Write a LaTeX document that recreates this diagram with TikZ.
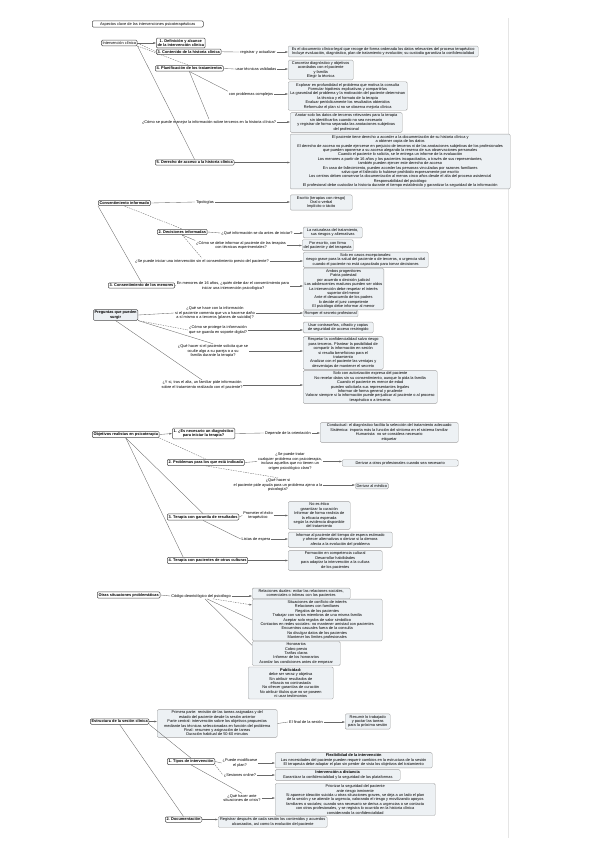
\documentclass[tikz,border=0pt]{standalone}
\usepackage{fontspec}
\setmainfont{Liberation Sans}
\usepackage{tikz}
\usetikzlibrary{arrows.meta, calc}
\definecolor{boxfill}{RGB}{237,241,244}
\definecolor{linegray}{RGB}{105,105,105}
\newcommand{\mapsize}{\fontsize{3.9}{4.4}\selectfont}

\begin{document}
\begin{tikzpicture}[x=1pt, y=-1pt,
    box/.style={draw=gray!75, fill=boxfill, rounded corners=1.2pt, align=center, anchor=west, font=\mapsize, inner sep=1.4pt, line width=0.4pt},
    topic/.style={draw=black!70, fill=white, rounded corners=1.2pt, align=center, anchor=west, font=\mapsize\bfseries, inner sep=1.3pt, line width=0.5pt},
    lbl/.style={align=center, font=\mapsize, inner sep=0.8pt},
    link/.style={draw=linegray, line width=0.35pt},
    arr/.style={link, -{Latex[length=2.6pt,width=2pt]}},
    dlink/.style={link, dash pattern=on 1.5pt off 1pt}]

        \useasboundingbox (0,0) rectangle (599,848);
        \draw[gray!20, line width=0.5pt] (508,18) -- (508,838);

        % Title and clinical intervention
        \node[topic, font=\mapsize, minimum width=111pt] (title) at (92,24) {Aspectos clave de las intervenciones psicoterapéuticas};
        \node[topic, font=\mapsize] (ic) at (101,43) {Intervención clínica};
        \node[topic] (d1) at (156,43) {1. Definición y alcance\\de la intervención clínica};
        \node[topic] (d3) at (156,51.8) {3. Contenido de la historia clínica};
        \node[lbl] (l3) at (258,52) {registrar y actualizar};
        \node[box, minimum width=190pt] (b3) at (288,51.5) {Es el documento clínico-legal que recoge de forma ordenada los datos relevantes del proceso terapéutico\\Incluye evaluación, diagnóstico, plan de tratamiento y evolución; su custodia garantiza la confidencialidad};
        \node[topic] (d4) at (155,68.5) {4. Planificación de los tratamientos};
        \node[lbl] (l4a) at (256,69) {usar técnicas validadas};
        \node[box, minimum width=65pt] (b4a) at (288,70) {Concretar diagnóstico y objetivos\\acordados con el paciente\\y familia\\Elegir la técnica};
        \node[lbl] (l4b) at (251,94) {con problemas complejos};
        \node[box, minimum width=119pt] (b4b) at (288,96) {Explorar en profundidad el problema que motiva la consulta\\Formular hipótesis explicativas y compartirlas\\La gravedad del problema y la motivación del paciente determinan\\la técnica y el formato de la terapia\\Evaluar periódicamente los resultados obtenidos\\Reformular el plan si no se observa mejoría clínica};
        \node[lbl] (l4c) at (209,122) {¿Cómo se puede manejar la información sobre terceros en la historia clínica?};
        \node[box, minimum width=112pt] (b4c) at (290,122.5) {Anotar solo los datos de terceros relevantes para la terapia\\sin identificarlos cuando no sea necesario\\y registrar de forma separada las anotaciones subjetivas\\del profesional};
        \node[topic] (d5) at (155,162.5) {5. Derecho de acceso a la historia clínica};
        \node[box, minimum width=220pt] (b5) at (290,161.5) {El paciente tiene derecho a acceder a la documentación de su historia clínica y\\a obtener copia de los datos\\El derecho de acceso no puede ejercerse en perjuicio de terceros ni de las anotaciones subjetivas de los profesionales\\que pueden oponerse a su acceso alegando la reserva de sus observaciones personales\\Cuando el paciente lo solicita, se le entrega un informe de la evaluación\\Los menores a partir de 16 años y los pacientes incapacitados, a través de sus representantes,\\también pueden ejercer este derecho de acceso\\En caso de fallecimiento, pueden acceder las personas vinculadas por razones familiares\\salvo que el fallecido lo hubiese prohibido expresamente por escrito\\Los centros deben conservar la documentación al menos cinco años desde el alta del proceso asistencial\\Responsabilidad del psicólogo\\El profesional debe custodiar la historia durante el tiempo establecido y garantizar la seguridad de la información};

        \draw[arr] (ic.east) -- (d1.west);
        \draw[dlink] (ic.east) -- (d3.west);
        \draw[dlink] (ic.south east) -- (d4.north);
        \draw[link] (ic.south east) -- (d5.north);
        \draw[link] (d3.east) -- (l3.west);
        \draw[arr] (l3.east) -- (l3.east -| b3.west);
        \draw[link] (d4.east) -- (l4a.west);
        \draw[arr] (l4a.east) -- (l4a.east -| b4a.west);
        \draw[link] (d4.south) -- (l4b.north west);
        \draw[arr] (l4b.east) -- (l4b.east -| b4b.west);
        \draw[link] (d4.south) -- (l4c.north);
        \draw[arr] (l4c.east) -- (l4c.east -| b4c.west);
        \draw[arr] (d5.east) -- (d5.east -| b5.west);

        % Informed consent
        \node[topic] (ci) at (98,203) {Consentimiento informado};
        \node[lbl] (lt) at (205,202) {Tipologías};
        \node[box, minimum width=62pt] (bt) at (290,202.5) {Escrito (terapias con riesgo)\\Oral o verbal\\Implícito o tácito};
        \node[topic] (c2) at (157,232) {2. Decisiones informadas};
        \node[lbl] (l2a) at (257,233) {¿Qué información se da antes de iniciar?};
        \node[box, minimum width=59pt] (b2a) at (303,232.5) {La naturaleza del tratamiento,\\sus riesgos y alternativas};
        \node[lbl] (l2b) at (241,245.5) {¿Cómo se debe informar al paciente de las terapias\\con técnicas experimentales?};
        \node[box, minimum width=51pt] (b2b) at (302,245.2) {Por escrito, con firma\\del paciente y del terapeuta};
        \node[lbl] (l2c) at (202,261) {¿Se puede iniciar una intervención sin el consentimiento previo del paciente?};
        \node[box, minimum width=125pt] (b2c) at (303,259.8) {Solo en casos excepcionales:\\riesgo grave para la salud del paciente o de terceros, o urgencia vital\\cuando el paciente no está capacitado para tomar decisiones};
        \node[topic] (c3) at (108,285.5) {3. Consentimiento de los menores};
        \node[lbl] (l3m) at (233,286) {En menores de 16 años, ¿quién debe dar el consentimiento para\\iniciar una intervención psicológica?};
        \node[box, minimum width=80pt] (b3m) at (303,289) {Ambos progenitores\\Patria potestad\\por acuerdo o decisión judicial\\Los adolescentes maduros pueden ser oídos\\La intervención debe respetar el interés\\superior del menor\\Ante el desacuerdo de los padres\\lo decide el juez competente\\El psicólogo debe informar al menor};

        \draw[link] (ci.east) -- (lt.west);
        \draw[arr] (lt.east) -- (lt.east -| bt.west);
        \draw[dlink] (ci.south) -- (c2.north);
        \draw[link] (ci.south west) -- (c3.north);
        \draw[link] (c2.east) -- (l2a.west);
        \draw[arr] (l2a.east) -- (l2a.east -| b2a.west);
        \draw[link] (c2.south) -- (l2b.north west);
        \draw[arr] (l2b.east) -- (l2b.east -| b2b.west);
        \draw[dlink] (c2.south) -- (l2c.north);
        \draw[arr] (l2c.east) -- (l2c.east -| b2c.west);
        \draw[link] (c3.east) -- (l3m.west);
        \draw[arr] (l3m.east) -- (l3m.east -| b3m.west);

        % Questions from the patient
        \node[topic, fill=boxfill] (pp) at (93,315) {Preguntas que pueden\\surgir};
        \node[lbl] (lp1) at (215,313) {¿Qué se hace con la información\\si el paciente comenta que va a hacerse daño\\a sí mismo o a terceros (planes de suicidio)?};
        \node[box, minimum width=52pt] (bp1) at (303,313.5) {Romper el secreto profesional};
        \node[lbl] (lp2) at (218,330) {¿Cómo se protege la información\\que se guarda en soporte digital?};
        \node[box, minimum width=70pt] (bp2) at (303,327.5) {Usar contraseñas, cifrado y copias\\de seguridad de acceso restringido};
        \node[lbl] (lp3) at (213,351) {¿Qué hacer si el paciente solicita que se\\oculte algo a su pareja o a su\\familia durante la terapia?};
        \node[box, minimum width=80pt] (bp3) at (303,353) {Respetar la confidencialidad salvo riesgo\\para terceros. Plantear la posibilidad de\\compartir la información en sesión\\si resulta beneficioso para el\\tratamiento\\Analizar con el paciente las ventajas y\\desventajas de mantener el secreto};
        \node[lbl] (lp4) at (202,385) {¿Y si, tras el alta, un familiar pide información\\sobre el tratamiento realizado con el paciente?};
        \node[box, minimum width=134pt] (bp4) at (303,387) {Solo con autorización expresa del paciente\\No revelar datos sin su consentimiento, aunque lo pida la familia\\Cuando el paciente es menor de edad\\pueden solicitarla sus representantes legales\\Informar de forma general y prudente\\Valorar siempre si la información puede perjudicar al paciente o al proceso\\terapéutico o a terceros};

        \draw[link] (pp.east) -- (lp1.west);
        \draw[arr] (lp1.east) -- (lp1.east -| bp1.west);
        \draw[dlink] (pp.south east) -- (lp2.west);
        \draw[arr] (lp2.east) -- (lp2.east -| bp2.west);
        \draw[link] (pp.south east) -- (lp3.north);
        \draw[arr] (lp3.east) -- (lp3.east -| bp3.west);
        \draw[link] (pp.south) -- (lp4.north);
        \draw[arr] (lp4.east) -- (lp4.east -| bp4.west);

        % Realistic goals
        \node[topic] (ob) at (92,434.5) {Objetivos realistas en psicoterapia};
        \node[topic] (o1) at (172,433.5) {1. ¿Es necesario un diagnóstico\\para iniciar la terapia?};
        \node[lbl] (lo1) at (288,433) {Depende de la orientación};
        \node[box, minimum width=138pt] (bo1) at (320,432.5) {Conductual: el diagnóstico facilita la selección del tratamiento adecuado\\Sistémica: importa más la función del síntoma en el sistema familiar\\Humanista: no se considera necesario\\etiquetar};
        \node[topic] (o2) at (167,462.5) {2. Problemas para los que está indicada};
        \node[lbl] (lo2a) at (290,461.5) {¿Se puede tratar\\cualquier problema con psicoterapia,\\incluso aquellos que no tienen un\\origen psicológico claro?};
        \node[box, minimum width=116pt] (bo2a) at (342,463) {Derivar a otros profesionales cuando sea necesario};
        \node[lbl] (lo2b) at (278,485) {¿Qué hacer si\\el paciente pide ayuda para un problema ajeno a la\\psicología?};
        \node[box, minimum width=33pt] (bo2b) at (355,486) {Derivar al médico};
        \node[topic] (o3) at (167,517) {3. Terapia con garantía de resultados};
        \node[lbl] (lo3a) at (258,515.5) {Prometer el éxito\\terapéutico};
        \node[box, minimum width=62pt] (bo3a) at (288,515.5) {No es ético\\garantizar la curación\\Informar de forma realista de\\la eficacia esperada\\según la evidencia disponible\\del tratamiento};
        \node[lbl] (lo3b) at (256,539) {Listas de espera};
        \node[box, minimum width=104pt] (bo3b) at (288,539.8) {Informar al paciente del tiempo de espera estimado\\y ofrecer alternativas o derivar si la demora\\afecta a la evolución del problema};
        \node[topic] (o4) at (167,560.5) {4. Terapia con pacientes de otras culturas};
        \node[box, minimum width=94pt] (bo4) at (288,560.5) {Formación en competencia cultural\\Desarrollar habilidades\\para adaptar la intervención a la cultura\\de los pacientes};

        \draw[arr] (ob.east) -- (o1.west);
        \draw[link] (o1.east) -- (lo1.west);
        \draw[arr] (lo1.east) -- (lo1.east -| bo1.west);
        \draw[dlink] (ob.south east) -- (o2.north);
        \draw[link] (o2.east) -- (lo2a.west);
        \draw[arr] (lo2a.east) -- (lo2a.east -| bo2a.west);
        \draw[dlink] (o2.south) -- (lo2b.north);
        \draw[arr] (lo2b.east) -- (lo2b.east -| bo2b.west);
        \draw[link] (ob.south) -- (o3.north);
        \draw[link] (o3.east) -- (lo3a.west);
        \draw[arr] (lo3a.east) -- (lo3a.east -| bo3a.west);
        \draw[link] (o3.south) -- (lo3b.west);
        \draw[arr] (lo3b.east) -- (lo3b.east -| bo3b.west);
        \draw[link] (ob.south) -- ($(o4.north west)!0.2!(o4.north east)$);
        \draw[arr] (o4.east) -- (o4.east -| bo4.west);

        % Other problematic situations
        \node[topic] (os) at (97,595) {Otras situaciones problemáticas};
        \node[lbl] (lc) at (201,596) {Código deontológico del psicólogo};
        \node[box, minimum width=98pt] (bs1) at (252,593.5) {Relaciones duales: evitar las relaciones sociales,\\comerciales o íntimas con los pacientes};
        \node[box, minimum width=130pt] (bs2) at (252,620) {Situaciones de conflicto de interés\\Relaciones con familiares\\Regalos de los pacientes\\Trabajar con varios miembros de una misma familia\\Aceptar solo regalos de valor simbólico\\Contactos en redes sociales: no mantener amistad con pacientes\\Encuentros casuales fuera de la consulta\\No divulgar datos de los pacientes\\Mantener los límites profesionales};
        \node[box, minimum width=88pt] (bs3) at (252,653.5) {Honorarios\\Cobro previo\\Tarifas claras\\Informar de los honorarios\\Acordar las condiciones antes de empezar};
        \node[box, minimum width=85pt] (bs4) at (248,683) {\textbf{Publicidad:}\\debe ser veraz y objetiva\\Sin atribuir resultados de\\eficacia no contrastada\\No ofrecer garantías de curación\\No atribuir títulos que no se poseen\\ni usar testimonios};

        \draw[link] (os.east) -- (lc.west);
        \draw[arr] (lc.east) -- (lc.east -| bs1.west);
        \draw[dlink, -{Latex[length=2.6pt,width=2pt]}] ($(lc.south)+(12,0)$) -- ($(bs2.north west)+(0,6)$);
        \draw[link] ($(lc.south)+(6,0)$) -- (bs2.west);
        \draw[link] ($(lc.south)+(4,0)$) -- ($(bs3.north west)+(0,4)$);

        % Structure of a session
        \node[topic] (es) at (90,721.5) {Estructura de la sesión clínica};
        \node[box, minimum width=120pt] (be) at (157,723.5) {Primera parte: revisión de las tareas asignadas y del\\estado del paciente desde la sesión anterior\\Parte central: intervención sobre los objetivos propuestos\\mediante las técnicas seleccionadas en función del problema\\Final: resumen y asignación de tareas\\Duración habitual de 50-60 minutos};
        \node[lbl] (lf) at (306,722) {El final de la sesión};
        \node[box, minimum width=45pt] (bf) at (345,721.5) {Resumir lo trabajado\\y pactar las tareas\\para la próxima sesión};
        \node[topic] (e1) at (167,761.5) {1. Tipos de intervención};
        \node[lbl] (le1a) at (240,763) {¿Puede modificarse\\el plan?};
        \node[box, minimum width=157pt] (be1a) at (275,760.3) {\textbf{Flexibilidad de la intervención}\\Las necesidades del paciente pueden requerir cambios en la estructura de la sesión\\El terapeuta debe adaptar el plan sin perder de vista los objetivos del tratamiento};
        \node[lbl] (le1b) at (240,775) {¿Sesiones online?};
        \node[box, minimum width=125pt] (be1b) at (275,775) {\textbf{Intervención a distancia}\\Garantizar la confidencialidad y la seguridad de las plataformas};
        \node[lbl] (le1c) at (242,798) {¿Qué hacer ante\\situaciones de crisis?};
        \node[box, minimum width=160pt] (be1c) at (275,799.5) {Priorizar la seguridad del paciente\\ante riesgo inminente\\Si aparece ideación suicida u otras situaciones graves, se deja a un lado el plan\\de la sesión y se atiende la urgencia, valorando el riesgo y movilizando apoyos\\familiares o sociales; cuando sea necesario se deriva a urgencias o se contacta\\con otros profesionales, y se registra lo ocurrido en la historia clínica\\considerando la confidencialidad};
        \node[topic] (e2) at (165,819.5) {2. Documentación};
        \node[box, minimum width=109pt] (be2) at (218,822) {Registrar después de cada sesión los contenidos y acuerdos\\alcanzados, así como la evolución del paciente};

        \draw[arr] (es.east) -- (es.east -| be.west);
        \draw[link] (be.east) -- (lf.west);
        \draw[arr] (lf.east) -- (lf.east -| bf.west);
        \draw[link] (es.south east) -- (e1.north);
        \draw[link] (e1.east) -- (le1a.west);
        \draw[arr] (le1a.east) -- (le1a.east -| be1a.west);
        \draw[dlink] (e1.south east) -- (le1b.west);
        \draw[arr] (le1b.east) -- (le1b.east -| be1b.west);
        \draw[link] (e1.south) -- (le1c.north);
        \draw[arr] (le1c.east) -- (le1c.east -| be1c.west);
        \draw[link] (es.south) -- (e2.north);
        \draw[arr] (e2.east) -- (e2.east -| be2.west);
  \end{tikzpicture}
\end{document}
